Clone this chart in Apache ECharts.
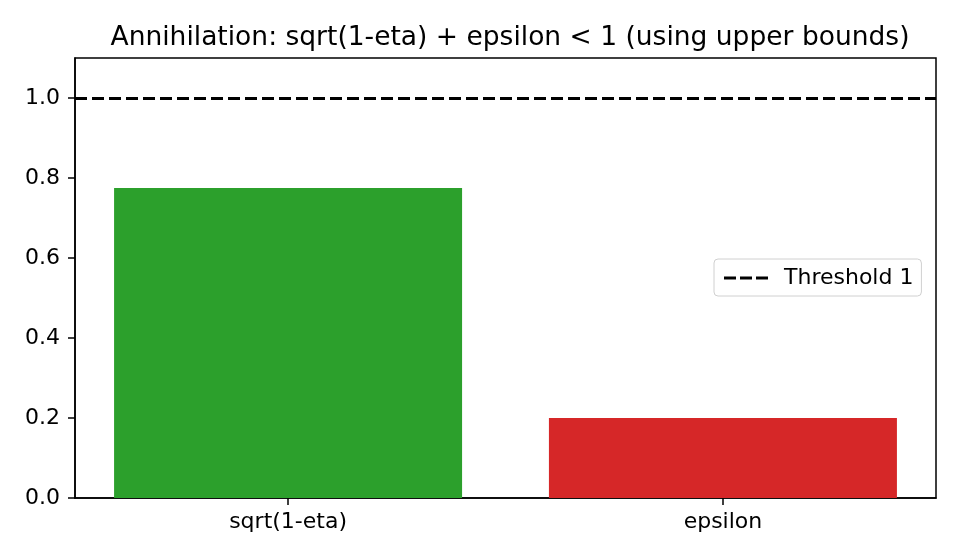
<!DOCTYPE html>
<html>
<head>
<meta charset="utf-8">
<script src="https://cdn.jsdelivr.net/npm/echarts@6/dist/echarts.min.js"></script>
<style>html,body{margin:0;padding:0;background:#fff;}#c{width:960px;height:560px;}</style>
</head>
<body>
<div id="c"></div>
<script>
const categories = ['sqrt(1-eta)', 'epsilon'];
const values = [0.775, 0.2];
const barColors = ['#2ca02c', '#d62728'];
const threshold = 1.0;
const yTicks = [0, 0.2, 0.4, 0.6, 0.8, 1.0];
const xPositions = [0, 1];

const chart = echarts.init(document.getElementById('c'), null, {renderer: 'canvas'});
const font = 'DejaVu Sans';
chart.setOption({
  animation: false,
  backgroundColor: '#ffffff',
  title: {
    text: 'Annihilation: sqrt(1-eta) + epsilon < 1 (using upper bounds)',
    left: 505, top: 20, textAlign: 'center',
    textStyle: {fontFamily: font, fontSize: 26.5, fontWeight: 'normal', color: '#000'}
  },
  grid: {left: 75, right: 24, top: 58, bottom: 62, show: true, borderColor: '#000', borderWidth: 1.5, backgroundColor: 'transparent'},
  legend: {
    left: 714, top: 259, orient: 'vertical',
    padding: [8, 8, 7, 10],
    borderColor: '#d0d0d0', borderWidth: 1, borderRadius: 4,
    itemWidth: 44, itemHeight: 14, itemGap: 10,
    textStyle: {fontFamily: font, fontSize: 22, color: '#000', padding: [0, 0, 0, 11]},
    data: [{name: 'Threshold 1', icon: 'path://M0,5.5 L12,5.5 L12,8.5 L0,8.5 Z M16,5.5 L28,5.5 L28,8.5 L16,8.5 Z M32,5.5 L44,5.5 L44,8.5 L32,8.5 Z'}]
  },
  xAxis: {
    type: 'value', min: -0.49, max: 1.49,
    splitLine: {show: false},
    axisLine: {show: true, onZero: false, lineStyle: {color: '#000', width: 1.5}},
    axisTick: {show: true, length: 7, customValues: xPositions, lineStyle: {color: '#000', width: 1.5}},
    axisLabel: {fontFamily: font, fontSize: 22, color: '#000', margin: 13, customValues: xPositions,
      formatter: v => categories[Math.round(v)]}
  },
  yAxis: {
    type: 'value', min: 0, max: 1.1, interval: 0.2,
    splitLine: {show: false},
    axisLine: {show: true, onZero: false, lineStyle: {color: '#000', width: 1.5}},
    axisTick: {show: true, length: 7, customValues: yTicks, lineStyle: {color: '#000', width: 1.5}},
    axisLabel: {fontFamily: font, fontSize: 22, color: '#000', margin: 15, customValues: yTicks,
      formatter: v => v.toFixed(1)}
  },
  series: [
    {
      type: 'bar', name: 'bars', barWidth: 348,
      data: values.map((v, i) => ({value: [xPositions[i], v], itemStyle: {color: barColors[i]}}))
    },
    {
      type: 'line', name: 'Threshold 1', data: [],
      itemStyle: {color: '#000'},
      lineStyle: {color: '#000', type: 'dashed', width: 3},
      markLine: {
        silent: true, symbol: ['none', 'none'],
        label: {show: false},
        lineStyle: {color: '#000', type: [12, 5], width: 3},
        data: [{yAxis: threshold}]
      }
    }
  ]
});
</script>
</body>
</html>
